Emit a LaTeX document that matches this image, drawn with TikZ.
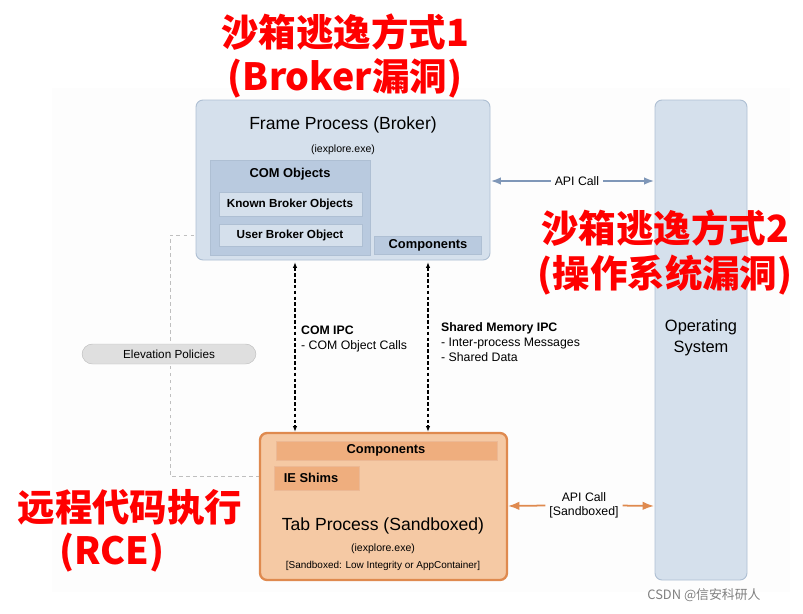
\documentclass[tikz,border=0pt]{standalone}
\usepackage{fontspec}
\setmainfont{Liberation Sans}
\newfontfamily\cjk{Noto Sans CJK SC}
\usetikzlibrary{arrows.meta}
\definecolor{brokerfill}{HTML}{D5E0EC}
\definecolor{brokerline}{HTML}{AEBFD3}
\definecolor{comfill}{HTML}{B9CADF}
\definecolor{tabfill}{HTML}{F5C9A4}
\definecolor{tabline}{HTML}{DF8A4F}
\definecolor{tabinner}{HTML}{EFAE7E}
\definecolor{apiblue}{HTML}{7F97B8}
\begin{document}
\begin{tikzpicture}[x=0.03cm,y=-0.03cm,
  box/.style={draw=#1,line width=0.8pt},
  lbl/.style={font=\bfseries\fontsize{10}{12}\selectfont},
  red/.style={text=red,font=\cjk\bfseries\fontsize{32}{36}\selectfont},
  ipc/.style={densely dashed,line width=1.2pt,{Latex[length=5pt]}-{Latex[length=5pt]}},
  >=Latex]
\useasboundingbox (0,0) rectangle (803,614);
\fill[gray!1.5] (52,88) rectangle (790,592);
% dashed policy line
\draw[gray!50,dashed] (274,476) -- (170,476) -- (170,235) -- (219,235);
\node[draw=gray!50,fill=gray!25,rounded corners=9pt,minimum width=174*0.03cm,minimum height=20*0.03cm,font=\fontsize{10}{12}\selectfont] (elev) at (169,354) {Elevation Policies};
% broker
\draw[box=brokerline,fill=brokerfill,rounded corners=6pt] (196,100) rectangle (490,260);
\node[font=\fontsize{15}{17}\selectfont] (broker) at (343,125) {Frame Process (Broker)};
\node[font=\fontsize{9}{10}\selectfont] (bexe) at (343,150) {(iexplore.exe)};
\draw[box=brokerline,fill=comfill] (210,160) rectangle (370,255);
\node[lbl,font=\bfseries\fontsize{11}{12}\selectfont] (com) at (290,174) {COM Objects};
\draw[box=brokerline,fill=brokerfill] (219,192) rectangle (362,216);
\node[lbl] (known) at (290,204) {Known Broker Objects};
\draw[box=brokerline,fill=brokerfill] (219,224) rectangle (362,246);
\node[lbl] (user) at (290,235) {User Broker Object};
\draw[box=brokerline,fill=comfill] (374,236) rectangle (481,254);
\node[lbl,font=\bfseries\fontsize{11}{12}\selectfont] (bcomp) at (428,245) {Components};
% os
\draw[box=brokerline,fill=brokerfill,rounded corners=6pt] (655,100) rectangle (747,580);
\node[align=center,font=\fontsize{14}{18}\selectfont] (os) at (701,338) {Operating\\System};
% tab
\draw[tabline,line width=2pt,fill=tabfill,rounded corners=6pt] (260,433) rectangle (507,580);
\draw[box=tabline!60,fill=tabinner] (276,441) rectangle (497,460);
\node[lbl,font=\bfseries\fontsize{11}{12}\selectfont] (tcomp) at (386,450) {Components};
\draw[box=tabline!60,fill=tabinner] (274,466) rectangle (359,490);
\node[lbl,font=\bfseries\fontsize{11}{12}\selectfont] (shims) at (311,478) {IE Shims};
\node[font=\fontsize{15}{17}\selectfont] (tab) at (383,526) {Tab Process (Sandboxed)};
\node[font=\fontsize{9}{10}\selectfont] (texe) at (383,549) {(iexplore.exe)};
\node[font=\fontsize{8.5}{10}\selectfont] (tmode) at (383,566) {{[Sandboxed: Low Integrity or AppContainer]}};
% ipc
\coordinate (c1) at (295,262); \coordinate (c2) at (295,432);
\coordinate (s1) at (428,262); \coordinate (s2) at (428,432);
\draw[ipc] (c1) -- (c2);
\draw[ipc] (s1) -- (s2);
\node[align=left,anchor=north west,font=\fontsize{10.5}{13}\selectfont] (comipc) at (297,322) {\textbf{COM IPC}\\- COM Object Calls};
\node[align=left,anchor=north west,font=\fontsize{10.5}{13}\selectfont] (shm) at (437,318) {\textbf{Shared Memory IPC}\\- Inter-process Messages\\- Shared Data};
% api calls
\coordinate (a1) at (491,181); \coordinate (a2) at (654,181);
\node[fill=gray!1.5,font=\fontsize{10.5}{12}\selectfont] (api1) at (577,181) {API Call};
\draw[apiblue,line width=1.2pt,->] (api1) -- (a1);
\draw[apiblue,line width=1.2pt,->] (api1) -- (a2);
\coordinate (b1) at (508,506); \coordinate (b2) at (654,506);
\node[align=center,font=\fontsize{10.5}{12}\selectfont] (api2) at (584,505) {API Call\\{}{[Sandboxed]}};
\draw[tabline,line width=1.5pt,->] (api2) -- (b1);
\draw[tabline,line width=1.5pt,->] (api2) -- (b2);
% annotations
\node[red] (t1) at (345,32) {沙箱逃逸方式1};
\node[red] (t2) at (345,78) {(Broker漏洞)};
\node[red] (t3) at (665,228) {沙箱逃逸方式2};
\node[red] (t4) at (665,275) {(操作系统漏洞)};
\node[red] (t5) at (130,507) {远程代码执行};
\node[red] (t6) at (112,553) {(RCE)};
\node[text=gray,font=\cjk\fontsize{11}{12}\selectfont] (mark) at (704,595) {CSDN @信安科研人};
\end{tikzpicture}
\end{document}
